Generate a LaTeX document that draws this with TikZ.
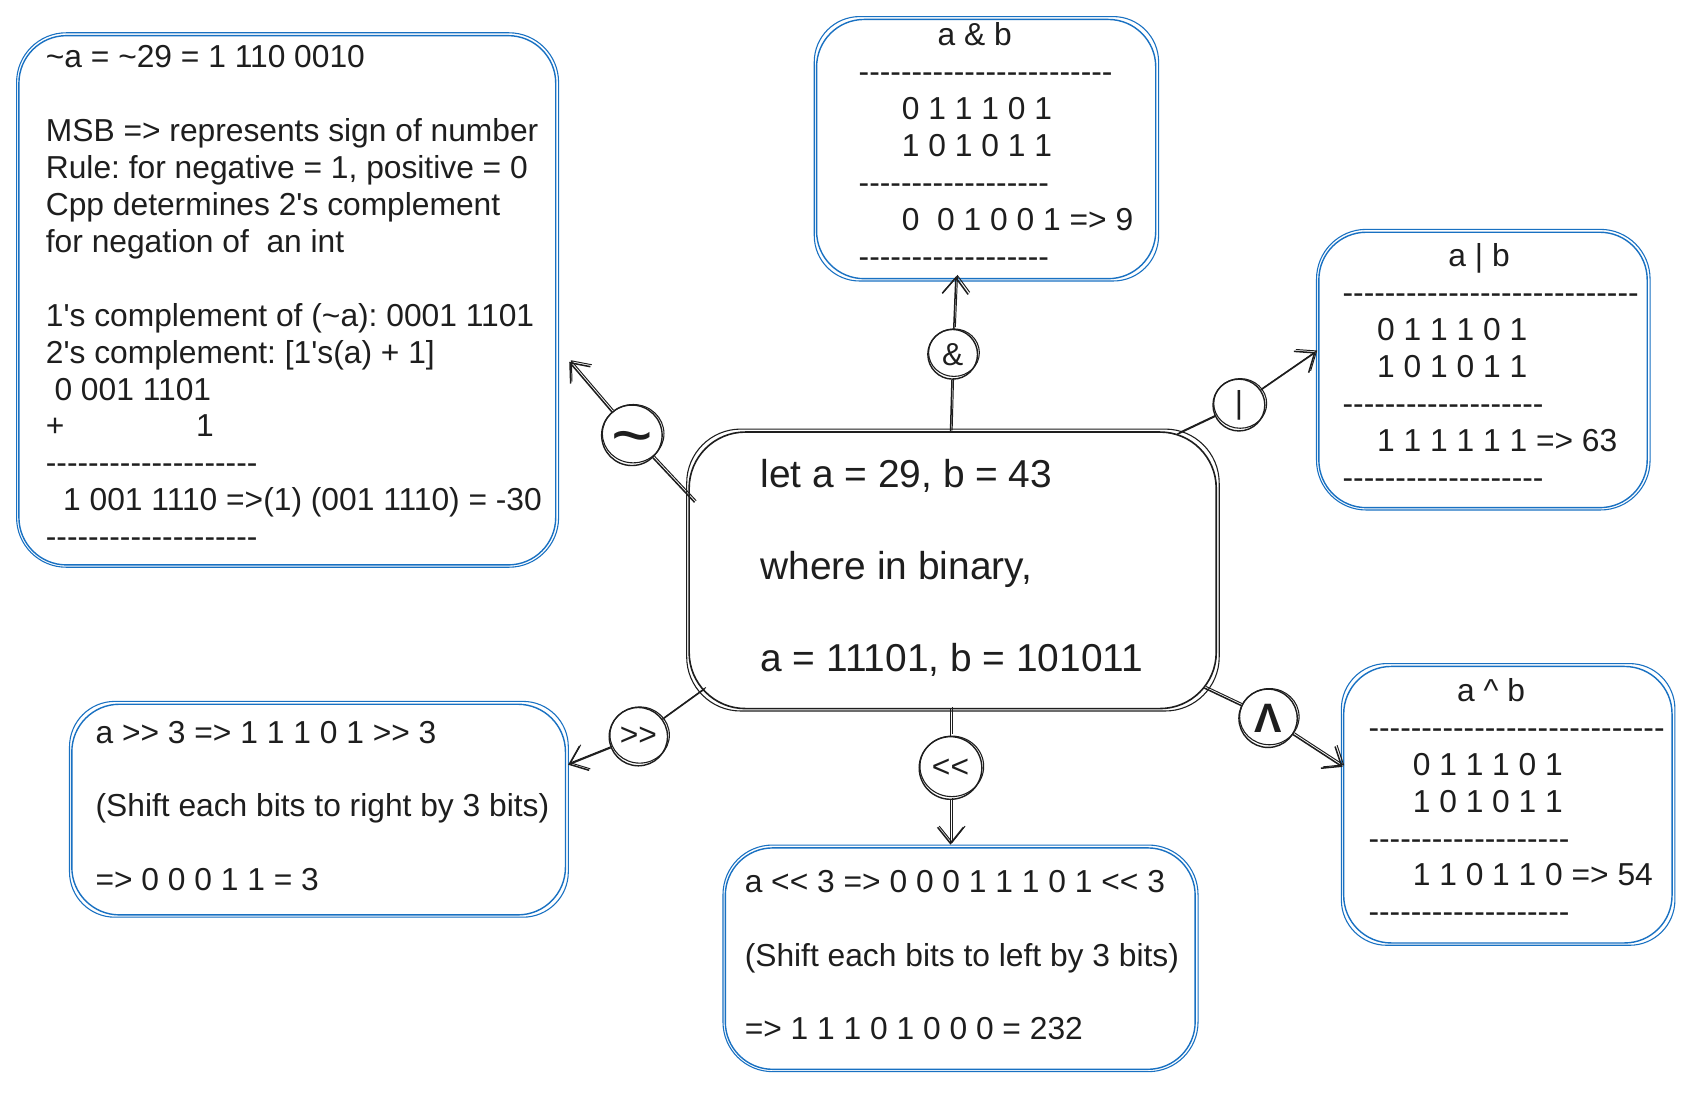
\documentclass[tikz,border=0pt]{standalone}
\usepackage{fontspec}
\setmainfont{Liberation Sans}[Ligatures=TeXOff]
\usetikzlibrary{arrows.meta}
\definecolor{exblue}{HTML}{1971C2}
\definecolor{ink}{HTML}{1E1E1E}
\frenchspacing
\newcommand\boxtext[2]{\makebox[#1][l]{\begin{tabular}{@{}l@{}}#2\end{tabular}}}
% second, slightly offset stroke for the hand-drawn look
\newcommand\skbox[3]{\draw[draw=#2, line width=1pt, rounded corners=#3]
  ([shift={(-1.5,-2)}]#1.north west) rectangle ([shift={(2,1.5)}]#1.south east);}
\newcommand\skcirc[2]{\draw[draw=ink, line width=1pt] ([shift={(1.2,-1.5)}]#1.center) ellipse ({#2+1.5pt} and {#2});}
\begin{document}
\begin{tikzpicture}[x=1pt,y=-1pt,
  bluebox/.style={draw=exblue, line width=1.3pt, rounded corners=44pt, inner ysep=0pt,
    text=ink, font=\fontsize{29.4}{34.2}\selectfont},
  centerbox/.style={draw=ink, line width=1.5pt, rounded corners=52pt, inner ysep=0pt,
    text=ink, font=\fontsize{36}{42.75}\selectfont},
  opc/.style={circle, draw=ink, line width=1.3pt, inner sep=0pt, text=ink,
    font=\fontsize{29.4}{34.2}\selectfont},
  conn/.style={draw=ink, line width=1.4pt, postaction={draw, line width=0.9pt, transform canvas={shift={(1.5pt,1.5pt)}}}},
  arr/.style={conn, -{Straight Barb[length=15pt,width=24pt]}}
]
\fill[white] (0,0) rectangle (1560,1019);
\useasboundingbox (0,0) rectangle (1560,1019);

% ---------- boxes ----------
\node[bluebox, inner xsep=25pt, minimum height=490pt] (notbox) at (266,278) {\boxtext{447pt}{%
\textasciitilde a = \textasciitilde 29 = 1 110 0010\\
\\
MSB => represents sign of number\\
Rule: for negative = 1, positive = 0\\
Cpp determines 2's complement\\
for negation of\ \ an int\\
\\
1's complement of (\textasciitilde a): 0001 1101\\
2's complement: [1's(a) + 1]\\
\hspace*{8pt}0 001 1101\\
+\hspace*{122pt}1\\
--------------------\\
\hspace*{16pt}1 001 1110 =>(1) (001 1110) = -30\\
--------------------}};

\node[bluebox, inner xsep=39pt, minimum height=240pt] (andbox) at (913,138) {\boxtext{236pt}{%
\hspace*{73pt}a \& b\\
------------------------\\
\hspace*{40pt}0 1 1 1 0 1\\
\hspace*{40pt}1 0 1 0 1 1\\
------------------\\
\hspace*{40pt}0\ \ 0 1 0 0 1 => 9\\
------------------}};

\node[bluebox, inner xsep=22pt, minimum height=255pt] (orbox) at (1373,342.5) {\boxtext{260pt}{%
\hspace*{98pt}a \textbar{} b\\
----------------------------\\
\hspace*{32pt}0 1 1 1 0 1\\
\hspace*{32pt}1 0 1 0 1 1\\
-------------------\\
\hspace*{32pt}1 1 1 1 1 1 => 63\\
-------------------}};

\node[bluebox, inner xsep=23pt, minimum height=256pt] (xorbox) at (1396,745) {\boxtext{258pt}{%
\hspace*{82pt}a \textasciicircum{} b\\
----------------------------\\
\hspace*{41pt}0 1 1 1 0 1\\
\hspace*{41pt}1 0 1 0 1 1\\
-------------------\\
\hspace*{41pt}1 1 0 1 1 0 => 54\\
-------------------}};

\node[bluebox, inner xsep=22pt, minimum height=195pt] (shrbox) at (295,749.5) {\boxtext{413pt}{%
a >> 3 => 1 1 1 0 1 >> 3\\
\\
(Shift each bits to right by 3 bits)\\
\\
=> 0 0 0 1 1 = 3}};

\node[bluebox, inner xsep=18pt, minimum height=205pt] (shlbox) at (889,887.5) {\boxtext{399pt}{%
a << 3 => 0 0 0 1 1 1 0 1 << 3\\
\\
(Shift each bits to left by 3 bits)\\
\\
=> 1 1 1 0 1 0 0 0 = 232}};

\node[centerbox, inner xsep=66pt, minimum height=256pt] (ctr) at (882,528) {\boxtext{356pt}{%
let a = 29, b = 43\\
\\
where in binary,\\
\\
a = 11101, b = 101011}};

\skbox{notbox}{exblue}{46pt}
\skbox{andbox}{exblue}{42pt}
\skbox{orbox}{exblue}{46pt}
\skbox{xorbox}{exblue}{42pt}
\skbox{shrbox}{exblue}{42pt}
\skbox{shlbox}{exblue}{46pt}
\skbox{ctr}{ink}{50pt}

% ---------- operator circles ----------
\node[opc, minimum size=56pt, font=\fontsize{66}{66}\selectfont] (tld) at (585,403) {\raisebox{-0.34em}[0pt][0pt]{\textasciitilde}};
\node[opc, minimum size=46pt] (amp) at (882,328) {\&};
\node[opc, minimum size=48pt] (bar) at (1147,375) {\textbar};
\node[opc, minimum size=54pt, font=\fontsize{38}{38}\selectfont\bfseries] (xor) at (1174,665) {Λ};
\node[opc, minimum size=58pt] (shl) at (880,711) {<<};
\node[opc, minimum size=54pt] (shr) at (591,682) {>>};
\skcirc{tld}{27pt}
\skcirc{amp}{22pt}
\skcirc{bar}{23pt}
\skcirc{xor}{26pt}
\skcirc{shl}{28pt}
\skcirc{shr}{26pt}

% ---------- connector ends ----------
\coordinate (s1) at (643,465); \coordinate (t1) at (527,335);
\coordinate (s2) at (880,400); \coordinate (t2) at (885,256);
\coordinate (s3) at (1090,402); \coordinate (t3) at (1218,326);
\coordinate (s4) at (1115,637); \coordinate (t4) at (1243,710);
\coordinate (s5) at (880,656); \coordinate (t5) at (880,782);
\coordinate (s6) at (652,638); \coordinate (t6) at (526,708);

\draw[conn] (s1) -- (tld); \draw[arr] (tld) -- (t1);
\draw[conn] (s2) -- (amp); \draw[arr] (amp) -- (t2);
\draw[conn] (s3) -- (bar); \draw[arr] (bar) -- (t3);
\draw[conn] (s4) -- (xor); \draw[arr] (xor) -- (t4);
\draw[conn] (s5) -- (shl); \draw[arr] (shl) -- (t5);
\draw[conn] (s6) -- (shr); \draw[arr] (shr) -- (t6);
\end{tikzpicture}
\end{document}
